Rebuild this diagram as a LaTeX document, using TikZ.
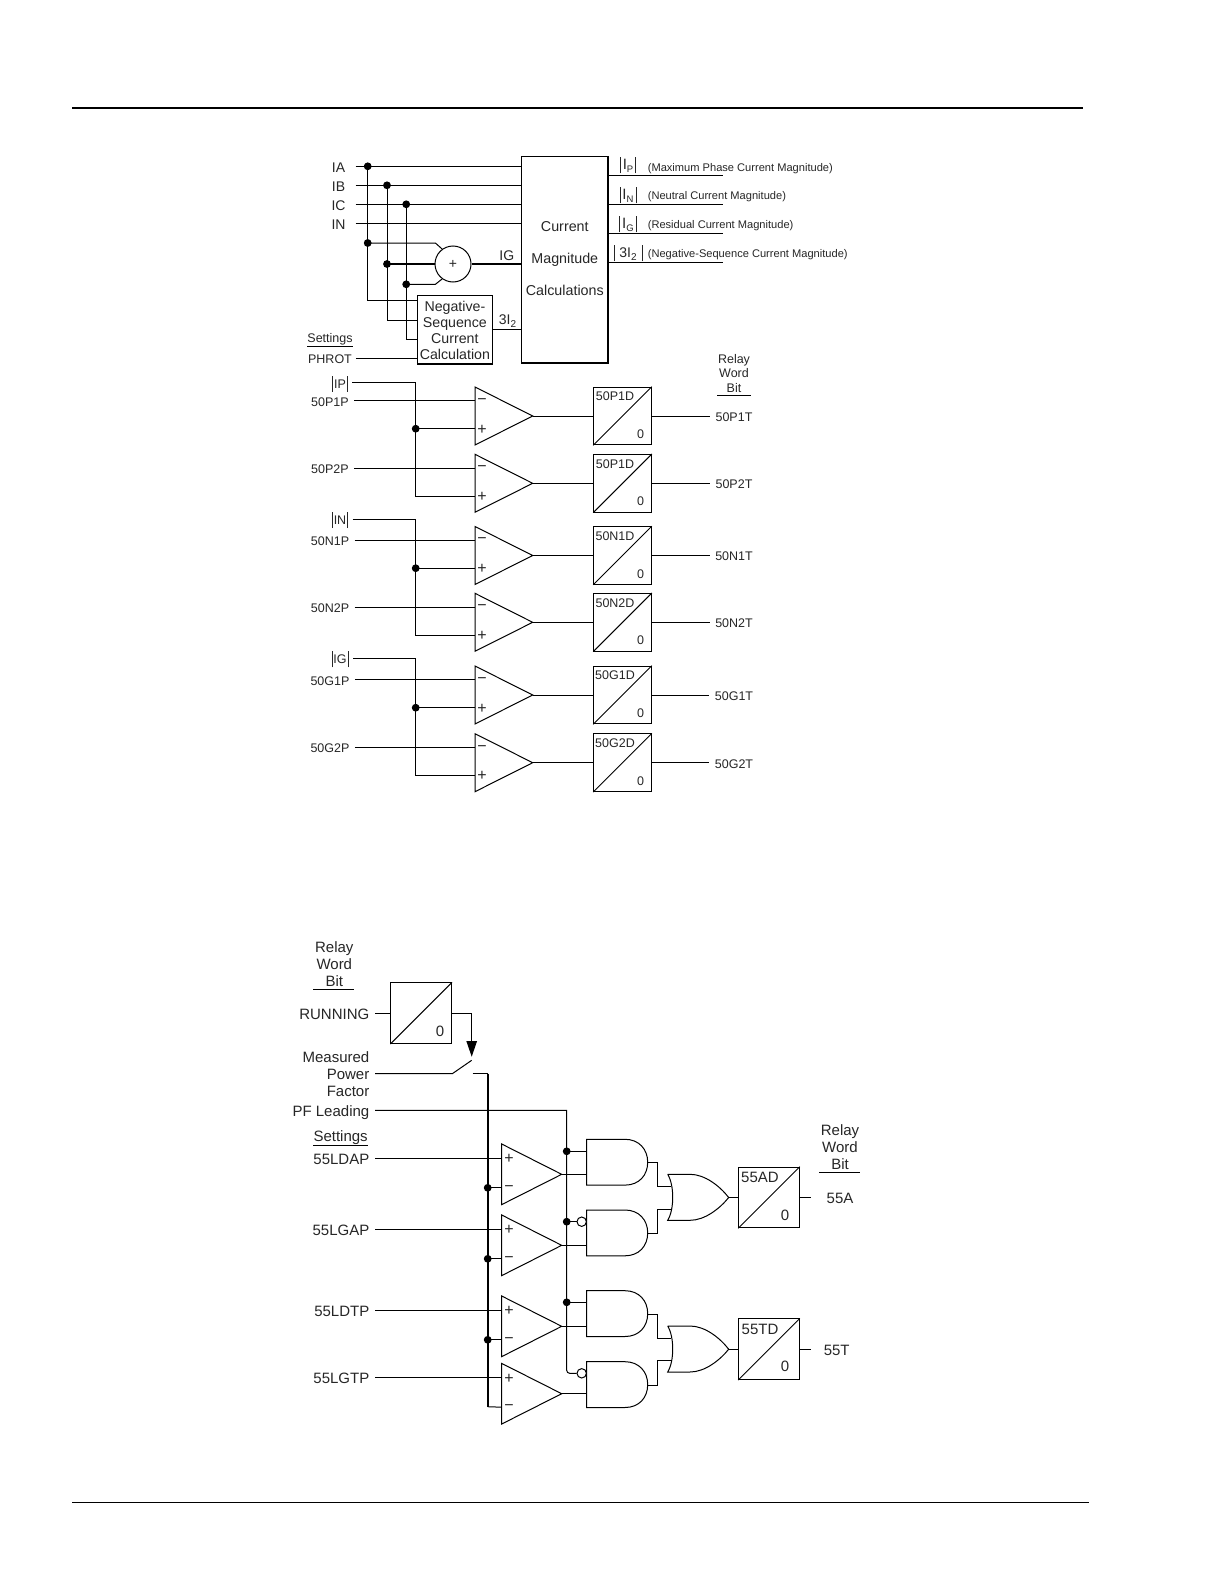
\documentclass[tikz,border=0pt]{standalone}
\usepackage{fontspec}
\setmainfont{Liberation Sans}
\usetikzlibrary{arrows.meta, positioning, calc}

\newcommand{\magbar}{\rule[-3.5pt]{0.8pt}{16.5pt}}
\newcommand{\subtxt}[2]{\raisebox{-3pt}{\fontsize{#1}{#1}\selectfont #2}}

\tikzset{
    toptxt/.style={font=\fontsize{14}{16}\selectfont, inner sep=0pt, text height=11.6pt, text depth=0pt},
    midfont/.style={font=\fontsize{12.5}{14.3}\selectfont, inner sep=0pt, align=center},
    midtxt/.style={font=\fontsize{12.5}{14.3}\selectfont, inner sep=0pt, text height=10.6pt, text depth=0pt, outer xsep=5.5pt},
    signtxt/.style={font=\fontsize{16}{16}\selectfont, inner sep=0pt, yshift=-0.8pt},
    notetxt/.style={font=\fontsize{11.1}{13}\selectfont, inner sep=0pt, anchor=west},
    lowfont/.style={font=\fontsize{15}{17}\selectfont, inner sep=0pt, align=center},
    lowtxt/.style={font=\fontsize{15}{17}\selectfont, inner sep=0pt, text height=12.3pt, text depth=0pt, outer xsep=5.7pt},
    junction/.style={circle, fill=black, inner sep=0pt, minimum size=7.8pt},
    invert/.style={circle, draw, fill=white, inner sep=0pt, minimum size=9.4pt},
    delaymid/.style={draw, inner sep=0pt, minimum size=57.6pt},
    delaylow/.style={draw, inner sep=0pt, minimum size=60.6pt},
    bus/.style={line width=2pt}
}

\begin{document}
\begin{tikzpicture}[x=1pt, y=-1pt, line width=1pt, text=black!85]
    \useasboundingbox (0,0) rectangle (1224,1584);

    % Page rules
    \draw[line width=2pt] (72,108) -- (1083,108);
    \draw (72,1502.5) -- (1089,1502.5);

    % Current magnitude block
    \node[draw, line width=1.2pt, inner sep=0pt, minimum width=86.4pt, minimum height=206.7pt, align=center,
          font=\fontsize{14.3}{32}\selectfont] (calc) at (564.8,259.6) {\raisebox{1.3pt}{Current}\\\raisebox{1.3pt}{Magnitude}\\\raisebox{1.3pt}{Calculations}};
    \node[draw, line width=1.6pt, inner sep=0pt, minimum width=75pt, minimum height=68.3pt] (negseq) at (454.9,329.8) {};
    \node[inner sep=0pt, align=center, font=\fontsize{14.2}{16}\selectfont] (negtxt) at (454.9,330.6) {Negative-\\Sequence\\Current\\Calculation};
    \node[draw, circle, inner sep=0pt, minimum size=36pt, font=\fontsize{14}{14}\selectfont] (sum) at (453,264) {+};

    % Phase and neutral inputs
    \foreach \l/\y in {IA/166.3, IB/185.3, IC/204.3, IN/223.7} {
        \node[toptxt] (\l) at (338.5,\y) {\l};
        \coordinate (start\l) at (355.5,\y);
        \draw (start\l) -- (start\l -| calc.west);
    }
    \foreach \n/\x/\yt/\ys/\yb in {1/367.7/166.3/243/300.3, 2/387/185.3/264/320, 3/406.2/204.3/284.3/339.3} {
        \node[junction] (jt\n) at (\x,\yt) {};
        \node[junction] (js\n) at (\x,\ys) {};
        \coordinate (jb\n) at (\x,\yb);
        \draw (jt\n.center) |- (jb\n -| negseq.west);
    }
    \draw (js1.center) -- ++(67.7,0) -- (sum.126);
    \draw[bus] (js2.center) -- (sum.west);
    \draw (js3.center) -- ++(29.2,0) -- (sum.234);
    \draw[bus] (sum.east) -- (sum.east -| calc.west);
    \node[toptxt] (ig) at (506.8,254.5) {IG};
    \node[toptxt] (neg) at (507.5,318.5) {3I\subtxt{10}{2}};
    \coordinate (negout) at (492.4,329.3);
    \draw (negout) -- (negout -| calc.west);

    % Settings
    \node[midtxt] (settop) at (330,337.2) {Settings};
    \draw (307,346.3) -- (353,346.3);
    \node[midtxt, outer xsep=4pt] (phrot) at (330,358) {PHROT};
    \draw (phrot.east) -- (phrot.east -| negseq.west);

    % Magnitude outputs
    \foreach \n/\y/\t/\m/\ty/\ny in {1/175.3/\magbar\hspace{2pt}\fontsize{15}{16}\selectfont I\subtxt{9.5}{P}\hspace{2pt}\magbar/(Maximum Phase Current Magnitude)/165/168.5,
                                     2/204.3/\magbar\hspace{2pt}\fontsize{15}{16}\selectfont I\subtxt{9.5}{N}\hspace{2pt}\magbar/(Neutral Current Magnitude)/195/197,
                                     3/233.3/\magbar\hspace{2pt}\fontsize{15}{16}\selectfont I\subtxt{9.5}{G}\hspace{2pt}\magbar/(Residual Current Magnitude)/224/226,
                                     4/262.3/\magbar\hspace{5pt}\fontsize{14}{16}\selectfont 3I\subtxt{10}{2}\hspace{5pt}\magbar/(Negative-Sequence Current Magnitude)/253/255} {
        \coordinate (out\n) at (723,\y);
        \draw (out\n -| calc.east) -- (out\n);
        \node[inner sep=0pt] (mag\n) at (628,\ty) {\t};
        \node[notetxt] (note\n) at (647.3,\ny) {\m};
    }

    % Relay word bit heading, upper part
    \node[midfont] (relaytop) at (734,373.5) {Relay\\Word\\Bit};
    \draw (717,395.3) -- (751,395.3);

    % Comparators and timers, upper part
    \foreach \n/\y/\plab/\dlab/\tlab in {1/416/50P1P/50P1D/50P1T, 2/483.3/50P2P/50P1D/50P2T,
                                         3/555.5/50N1P/50N1D/50N1T, 4/622.3/50N2P/50N2D/50N2T,
                                         5/695/50G1P/50G1D/50G1T, 6/762.7/50G2P/50G2D/50G2T} {
        \draw (475,\y-29) -- (532.7,\y) -- (475,\y+29) -- cycle;
        \coordinate (cmp\n-m) at (475,\y-15.3);
        \coordinate (cmp\n-p) at (475,\y+12.7);
        \coordinate (cmp\n-o) at (532.7,\y);
        \node[signtxt] (minus\n) at (482,\y-15.3) {−};
        \node[signtxt] (plus\n) at (482,\y+12.7) {+};
        \node[midtxt] (set\n) at (330,\y-15.3) {\plab};
        \draw (set\n.east) -- (cmp\n-m);
        \node[delaymid] (dly\n) at (622.5,\y) {};
        \draw (dly\n.south west) -- (dly\n.north east);
        \node[midtxt, outer sep=0pt] (dlab\n) at (615,\y-20.5) {\dlab};
        \node[midtxt, outer sep=0pt] (zero\n) at (640.5,\y+17.3) {0};
        \draw (cmp\n-o) -- (dly\n.west);
        \node[midtxt] (bit\n) at (734,\y) {\tlab};
        \draw (dly\n.east) -- (bit\n.west);
    }

    % Shared magnitudes
    \foreach \a/\b/\lab/\y in {1/2/IP/382.7, 3/4/IN/519.3, 5/6/IG/658.6} {
        \node[midtxt, outer xsep=4.5pt] (mag\lab) at (340,\y) {\rule[-3.5pt]{0.7pt}{16pt}\hspace{1.2pt}\lab\hspace{1.2pt}\rule[-3.5pt]{0.7pt}{16pt}};
        \node[junction] (dot\a) at (cmp\a-p -| 415.7,0) {};
        \draw (mag\lab.east) -| (dot\a.center) |- (cmp\b-p);
        \draw (dot\a.center) -- (cmp\a-p);
    }

    % Running timer and switch
    \node[lowfont] (relaylow) at (334.3,963.7) {Relay\\Word\\Bit};
    \draw (313,989) -- (354.3,989);
    \node[delaylow] (run) at (421.2,1013.2) {};
    \draw (run.south west) -- (run.north east);
    \node[lowtxt, outer sep=0pt] (runzero) at (440,1030) {0};
    \node[lowtxt, anchor=east] (running) at (375,1013.2) {RUNNING};
    \draw (running.east) -- (run.west);
    \coordinate (swtip) at (471.7,1056.7);
    \draw[-{Triangle[length=15.7pt, width=10.5pt]}] (run.east) -| (swtip);
    \node[lowfont, align=right, anchor=east, outer xsep=5.7pt] (meas) at (375,1073.7) {Measured\\Power\\Factor};
    \coordinate (swa) at (452.3,1073.7);
    \coordinate (swb) at (471.7,1060.3);
    \coordinate (swc) at (472.7,1073.7);
    \coordinate (bustop) at (487.7,1073.7);
    \coordinate (busend) at (487.7,1406.7);
    \draw (meas.east) -- (swa) -- (swb);
    \draw (swc) -- (bustop);
    \draw[bus] (bustop) -- (busend);

    % Leading and settings
    \node[lowtxt, anchor=east] (pf) at (375,1110.3) {PF Leading};
    \node[lowtxt, anchor=east, outer sep=0pt] (setlow) at (367.7,1135.7) {Settings};
    \draw (313,1145.3) -- (368,1145.3);

    % Comparators, lower part
    \foreach \n/\y/\lab in {1/1174.3/55LDAP, 2/1245.3/55LGAP, 3/1326.3/55LDTP, 4/1393.7/55LGTP} {
        \draw (501.7,\y-30.3) -- (561.7,\y) -- (501.7,\y+30.3) -- cycle;
        \coordinate (low\n-p) at (501.7,\y-16);
        \coordinate (low\n-m) at (501.7,\y+13.5);
        \coordinate (low\n-o) at (561.7,\y);
        \node[signtxt] (lowplus\n) at (509,\y-16) {+};
        \node[signtxt] (lowminus\n) at (509,\y+13.5) {−};
        \node[lowtxt, anchor=east] (lab\n) at (375,\y-16) {\lab};
        \draw (lab\n.east) -- (low\n-p);
    }
    \foreach \n in {1,2,3} {
        \node[junction] (bus\n) at (low\n-m -| busend) {};
        \draw (bus\n.center) -- (low\n-m);
    }
    \draw (busend) -- (low4-m);

    % AND gates
    \foreach \n/\t/\u in {1/1139.3/1151.3, 2/1210/1221.7, 3/1290.7/1302.3, 4/1361.7/1373.3} {
        \draw (586.7,\t) -- (625,\t) .. controls (639,\t) and (647.7,\t+10) .. (647.7,\t+22.9)
              .. controls (647.7,\t+36) and (639,\t+45.8) .. (625,\t+45.8) -- (586.7,\t+45.8) -- cycle;
        \coordinate (and\n-a) at (586.7,\u);
        \coordinate (and\n-o) at (647.7,\t+23.6);
        \coordinate (and\n-b) at (low\n-o -| and\n-a);
        \draw (low\n-o) -- (and\n-b);
    }

    % Leading signal into the gates
    \coordinate (pfc) at (566.7,1373.3);
    \node[invert] (bub2) at (581.7,1221.7) {};
    \node[invert] (bub4) at (581.7,1373.3) {};
    \draw (pf.east) -- (pf.east -| pfc) [rounded corners=3pt] -- (pfc) -- (bub4.west);
    \node[junction] (pfa) at (and1-a -| pfc) {};
    \node[junction] (pfb) at (and2-a -| pfc) {};
    \node[junction] (pfd) at (and3-a -| pfc) {};
    \draw (pfa.center) -- (and1-a);
    \draw (pfb.center) -- (bub2.west);
    \draw (pfd.center) -- (and3-a);

    % OR gates and timers
    \foreach \m/\t/\a/\b/\dlab/\tlab/\xt in {1/1174.3/1/2/55AD/55A/840, 2/1326/3/4/55TD/55T/836.7} {
        \draw (667.7,\t) -- (690,\t) .. controls (705,\t) and (720,\t+12) .. (728.7,\t+23.2)
              .. controls (720,\t+34) and (705,\t+46) .. (690,\t+46) -- (667.7,\t+46)
              .. controls (674.4,\t+35) and (674.4,\t+11) .. (667.7,\t);
        \coordinate (or\m-a) at (670.7,\t+12);
        \coordinate (or\m-b) at (670.7,\t+34.7);
        \coordinate (or\m-o) at (728.7,\t+23.2);
        \draw (and\a-o) -- ++(10,0) |- (or\m-a);
        \draw (and\b-o) -- ++(10,0) |- (or\m-b);
        \node[delaylow] (tmr\m) at (769,\t+23.2) {};
        \draw (tmr\m.south west) -- (tmr\m.north east);
        \node[lowtxt, outer sep=0pt] (tlab\m) at (760,\t+2.5) {\dlab};
        \node[lowtxt, outer sep=0pt] (tzero\m) at (785,\t+39.7) {0};
        \draw (or\m-o) -- (tmr\m.west);
        \node[lowtxt] (word\m) at (\xt,\t+23.2) {\tlab};
        \coordinate (tail\m) at (811,\t+23.2);
        \draw (tmr\m.east) -- (tail\m);
    }

    % Relay word bit heading, lower part
    \node[lowfont] (relayright) at (840,1146.7) {Relay\\Word\\Bit};
    \draw (819,1172.3) -- (860,1172.3);
\end{tikzpicture}
\end{document}
